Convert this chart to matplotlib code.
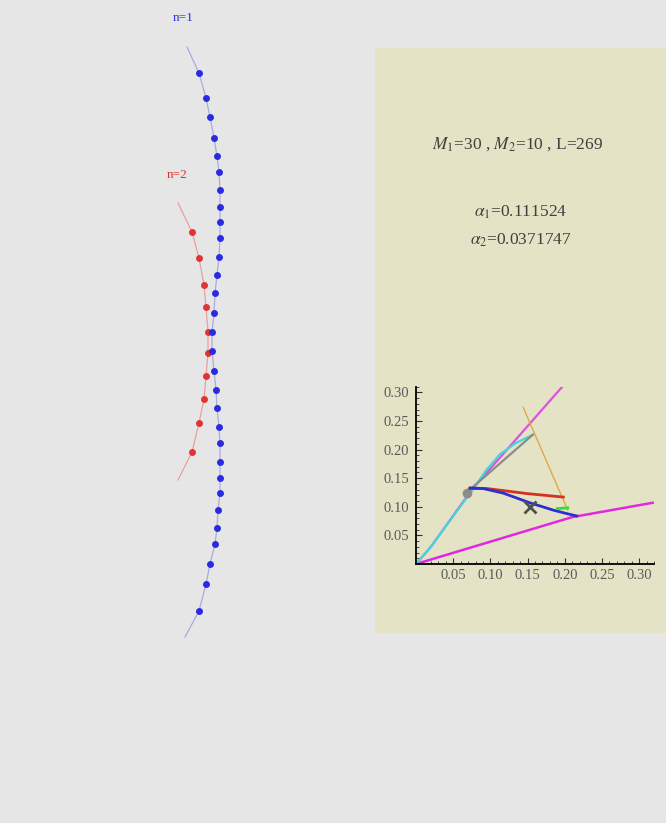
import matplotlib.pyplot as plt
from matplotlib.patches import Rectangle
from matplotlib.ticker import MultipleLocator

plt.rcParams['font.family'] = ['Liberation Serif', 'DejaVu Serif']
plt.rcParams['mathtext.fontset'] = 'stix'

# === left panel: two chains of points (picture units, y downwards) ===
n1_x = [199, 206, 210, 214, 217, 219, 220, 220, 220, 220, 219, 217, 215, 214, 212,
        212, 214, 216, 217, 219, 220, 220, 220, 220, 218, 217, 215, 210, 206, 199]
n1_y = [73, 98, 117, 138, 156, 172, 190, 207, 222, 238, 257, 275, 293, 313, 332,
        351, 371, 390, 408, 427, 443, 462, 478, 493, 510, 528, 544, 564, 584, 611]
n1_curve_x = [187] + n1_x + [185]
n1_curve_y = [47] + n1_y + [637]

n2_x = [192, 199, 204, 206, 208, 208, 206, 204, 199, 192]
n2_y = [232, 258, 285, 307, 332, 353, 376, 399, 423, 452]
n2_curve_x = [178] + n2_x + [178]
n2_curve_y = [203] + n2_y + [480]

# === inset: trajectories ===
mag_low_x = [0.0, 0.21, 0.318]
mag_low_y = [0.0, 0.082, 0.107]
mag_up_x = [0.0, 0.02, 0.075, 0.20]
mag_up_y = [0.0, 0.03, 0.13, 0.315]
cyan_x = [0.0, 0.02, 0.075, 0.095, 0.113, 0.135, 0.157]
cyan_y = [0.0, 0.03, 0.128, 0.165, 0.192, 0.212, 0.226]
grey_x = [0.068, 0.157]
grey_y = [0.125, 0.226]
orange_x = [0.144, 0.204]
orange_y = [0.274, 0.094]
red_x = [0.072, 0.095, 0.15, 0.198]
red_y = [0.132, 0.132, 0.123, 0.117]
blue_x = [0.073, 0.09, 0.117, 0.153, 0.185, 0.203, 0.216]
blue_y = [0.133, 0.132, 0.124, 0.107, 0.094, 0.088, 0.084]
green_x = [0.19, 0.204]
green_y = [0.097, 0.098]
cross_x, cross_y = 0.153, 0.100
ticks = [0.05, 0.10, 0.15, 0.20, 0.25, 0.30]

M1, M2, L = 30, 10, 269
alpha1, alpha2 = '0.111524', '0.0371747'

W, H = 666, 823
fig = plt.figure(figsize=(W / 100, H / 100), dpi=100, facecolor='#e6e6e6')

# left panel in picture units
ax = fig.add_axes([0, 0, 1, 1])
ax.set_xlim(0, W)
ax.set_ylim(H, 0)
ax.axis('off')
ax.plot(n1_curve_x, n1_curve_y, color='#aaaadf', lw=0.9, zorder=1)
ax.plot(n1_x, n1_y, 'o', color='#2a2ae0', ms=5, mec='none', zorder=3)
ax.plot(n2_curve_x, n2_curve_y, color='#e8a0a0', lw=0.9, zorder=1)
ax.plot(n2_x, n2_y, 'o', color='#e03434', ms=5, mec='none', zorder=2)
ax.text(183, 18, 'n=1', color='#3030e0', fontsize=9.5, ha='center', va='center')
ax.text(177, 175, 'n=2', color='#e03030', fontsize=9.5, ha='center', va='center')

# beige panel
ax.add_patch(Rectangle((375, 48), 300, 585, facecolor='#e4e3c6', edgecolor='none', zorder=0))
ax.text(518, 144, r'$M_1$=%d , $M_2$=%d , L=%d' % (M1, M2, L), fontsize=12.5,
        color='#404040', ha='center', va='center')
ax.text(521, 212, r'$\alpha_1$=' + alpha1, fontsize=12.5, color='#404040', ha='center', va='center')
ax.text(521, 240, r'$\alpha_2$=' + alpha2, fontsize=12.5, color='#404040', ha='center', va='center')

# inset axes
x0, y0 = 416, 564
sx, sy = 744, 572
ins = fig.add_axes([x0 / W, (H - y0) / H, 0.32 * sx / W, 0.31 * sy / H])
ins.set_facecolor('none')
ins.set_xlim(0, 0.32)
ins.set_ylim(0, 0.31)
for s in ['top', 'right']:
    ins.spines[s].set_visible(False)
for s in ['left', 'bottom']:
    ins.spines[s].set_linewidth(1.3)
ins.xaxis.set_minor_locator(MultipleLocator(0.01))
ins.yaxis.set_minor_locator(MultipleLocator(0.01))
ins.tick_params(which='both', direction='in', color='#303030', labelsize=10.5,
                labelcolor='#5a5a5a')
ins.tick_params(axis='y', pad=5)
ins.tick_params(which='major', length=4)
ins.tick_params(which='minor', length=2)
ins.set_xticks(ticks)
ins.set_yticks(ticks)
ins.set_xticklabels(['%.2f' % t for t in ticks])
ins.set_yticklabels(['%.2f' % t for t in ticks])

ins.plot(mag_low_x, mag_low_y, color='#e028e0', lw=1.8)
ins.plot(mag_up_x, mag_up_y, color='#e050e0', lw=1.6)
ins.plot(cyan_x, cyan_y, color='#40d8d8', lw=1.6)
ins.plot(grey_x, grey_y, color='#8c8c8c', lw=1.6)
ins.plot(grey_x[:1], grey_y[:1], 'o', color='#8c8c8c', ms=6)
ins.plot(orange_x, orange_y, color='#e0a848', lw=1.0)
ins.plot(red_x, red_y, color='#d83020', lw=2.0)
ins.plot(blue_x, blue_y, color='#2830d0', lw=2.0)
ins.plot(green_x, green_y, color='#30e030', lw=2.0)
ins.plot(cross_x, cross_y, 'x', color='#505050', ms=9, mew=2)

fig.savefig('out.png', dpi=100, facecolor=fig.get_facecolor())
